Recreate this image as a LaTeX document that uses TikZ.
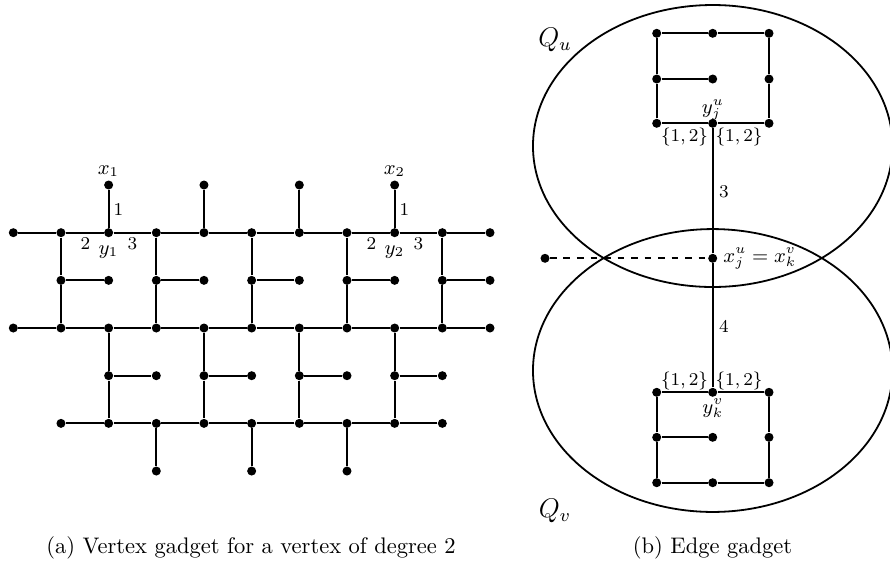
\documentclass[tikz,border=0pt]{standalone}
\usetikzlibrary{shapes.geometric}
\begin{document}
\begin{tikzpicture}[x=0.444pt,y=-0.444pt,
  dot/.style={circle,fill,inner sep=0pt,minimum size=4pt},
  edge/.style={line width=0.8pt},
  lab/.style={inner sep=0pt,font=\small},
  num/.style={inner sep=0pt,font=\footnotesize},
  captext/.style={inner sep=0pt,font=\normalsize}]
\useasboundingbox (0,0) rectangle (890,563);
% ---------- (a) vertex gadget ----------
\foreach \r/\cols in {0/{2,4,6,8},1/{0,...,10},2/{1,...,10},3/{0,...,10},4/{2,...,9},5/{1,...,9},6/{3,5,7}}{
  \foreach \c in \cols {
    \node[dot] (v\c-\r) at ({13.3+47.67*\c},{185+47.67*\r}) {};
  }
}
% horizontal rows
\foreach \c [evaluate=\c as \d using int(\c+1)] in {0,...,9} {
  \draw[edge] (v\c-1) -- (v\d-1);
  \draw[edge] (v\c-3) -- (v\d-3);
}
\foreach \c [evaluate=\c as \d using int(\c+1)] in {1,...,8} {
  \draw[edge] (v\c-5) -- (v\d-5);
}
% top pendants
\foreach \c in {2,4,6,8} \draw[edge] (v\c-0) -- (v\c-1);
% upper E shapes
\foreach \c [evaluate=\c as \d using int(\c+1)] in {1,3,5,7,9} {
  \draw[edge] (v\c-1) -- (v\c-2) -- (v\c-3);
  \draw[edge] (v\c-2) -- (v\d-2);
}
% lower E shapes
\foreach \c [evaluate=\c as \d using int(\c+1)] in {2,4,6,8} {
  \draw[edge] (v\c-3) -- (v\c-4) -- (v\c-5);
  \draw[edge] (v\c-4) -- (v\d-4);
}
% bottom pendants
\foreach \c in {3,5,7} \draw[edge] (v\c-5) -- (v\c-6);
% labels
\node[lab] (lx1) at (108.5,171) {$x_1$};
\node[num] (l11) at (118.5,209) {1};
\node[num] (l21) at (85.5,243.5) {2};
\node[lab] (ly1) at (108.5,252) {$y_1$};
\node[num] (l31) at (132.5,243.5) {3};
\node[lab] (lx2) at (394.5,171) {$x_2$};
\node[num] (l12) at (404.5,209) {1};
\node[num] (l22) at (371.5,243.5) {2};
\node[lab] (ly2) at (394.5,252) {$y_2$};
\node[num] (l32) at (418.5,243.5) {3};
\node[captext] (capa) at (251,548) {(a) Vertex gadget for a vertex of degree 2};
% ---------- (b) edge gadget ----------
\draw[edge] (712.7,146) ellipse [x radius=79.8pt, y radius=62.6pt];
\draw[edge] (712.7,370.5) ellipse [x radius=79.8pt, y radius=62.8pt];
% upper box
\node[dot] (utl) at (656.7,33.3) {};
\node[dot] (utm) at (712.7,33.3) {};
\node[dot] (utr) at (769,33.3) {};
\node[dot] (uml) at (656.7,79) {};
\node[dot] (umm) at (712.7,79) {};
\node[dot] (umr) at (769,79) {};
\node[dot] (ubl) at (656.7,123.3) {};
\node[dot] (yju) at (712.7,123.3) {};
\node[dot] (ubr) at (769,123.3) {};
\draw[edge] (utl) -- (utm) -- (utr);
\draw[edge] (utl) -- (uml) -- (ubl);
\draw[edge] (utr) -- (umr) -- (ubr);
\draw[edge] (uml) -- (umm);
\draw[edge] (ubl) -- (yju) -- (ubr);
% middle
\node[dot] (xj) at (712.7,258.3) {};
\node[dot] (xl) at (545,258.3) {};
\draw[edge,dashed] (xl) -- (xj);
% lower box
\node[dot] (ltl) at (656.7,392.3) {};
\node[dot] (ykv) at (712.7,392.3) {};
\node[dot] (ltr) at (769,392.3) {};
\node[dot] (lml) at (656.7,437.3) {};
\node[dot] (lmm) at (712.7,437.3) {};
\node[dot] (lmr) at (769,437.3) {};
\node[dot] (lbl) at (656.7,482.7) {};
\node[dot] (lbm) at (712.7,482.7) {};
\node[dot] (lbr) at (769,482.7) {};
\draw[edge] (ltl) -- (ykv) -- (ltr);
\draw[edge] (ltl) -- (lml) -- (lbl);
\draw[edge] (ltr) -- (lmr) -- (lbr);
\draw[edge] (lml) -- (lmm);
\draw[edge] (lbl) -- (lbm) -- (lbr);
\draw[edge] (yju) -- (xj) -- (ykv);
% labels
\node[lab] (lyju) at (713,110) {$y_j^u$};
\node[num] (s1) at (684.5,137) {$\{1,2\}$};
\node[num] (s2) at (739,137) {$\{1,2\}$};
\node[num] (l3) at (724,192) {3};
\node[lab,anchor=west] (lxj) at (723,258.3) {$x_j^u = x_k^v$};
\node[num] (l4) at (724,326) {4};
\node[num] (s3) at (684.5,381) {$\{1,2\}$};
\node[num] (s4) at (739,381) {$\{1,2\}$};
\node[lab] (lykv) at (713,408) {$y_k^v$};
\node[inner sep=0pt,font=\large] (qu) at (555,40) {$Q_u$};
\node[inner sep=0pt,font=\large] (qv) at (555,511) {$Q_v$};
\node[captext] (capb) at (712.5,548) {(b) Edge gadget};
\end{tikzpicture}
\end{document}
